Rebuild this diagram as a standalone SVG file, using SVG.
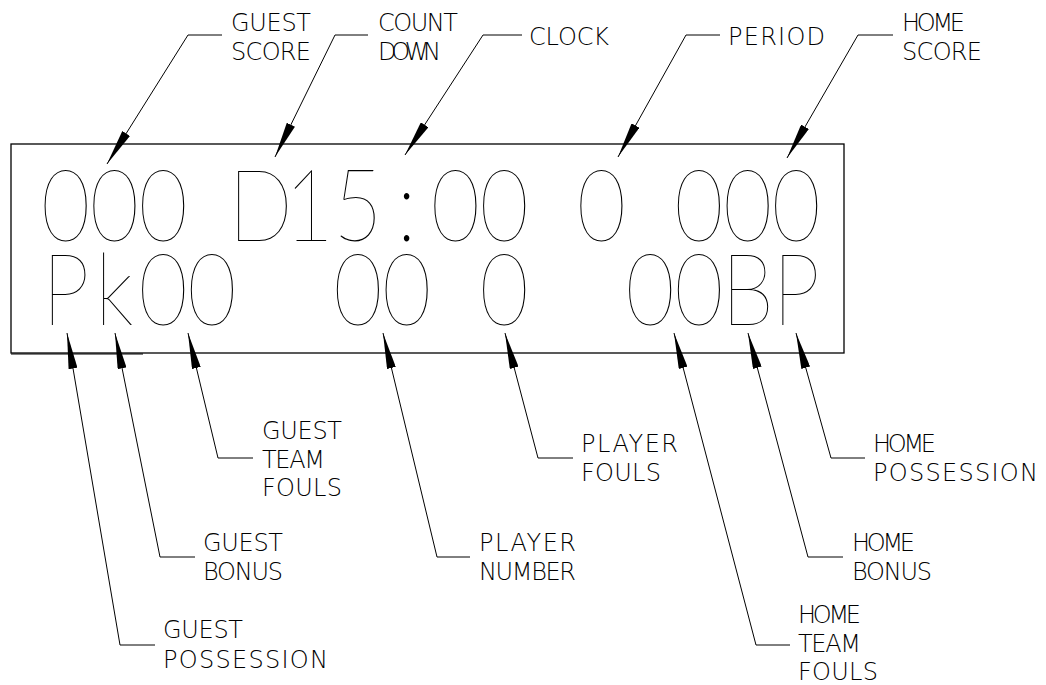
<svg xmlns="http://www.w3.org/2000/svg" width="1046" height="685" viewBox="0 0 1046 685">
<style>
.lbl{font-family:"DejaVu Sans",sans-serif;font-weight:200;font-size:24px;fill:#000}
.dig{font-family:Lato,"DejaVu Sans",sans-serif;font-weight:100;font-size:100px;fill:#000;text-anchor:middle}
.ld{fill:none;stroke:#000;stroke-width:1}
</style>
<defs>
<marker id="ah" viewBox="0 0 36 9" refX="36" refY="4.5" markerWidth="36" markerHeight="9" markerUnits="userSpaceOnUse" orient="auto">
<path d="M0,0 L36,4.5 L0,9 Z" fill="#000"/>
</marker>
</defs>
<rect width="1046" height="685" fill="#fff"/>
<g id="display">
<rect x="11" y="144" width="833" height="209" fill="none" stroke="#000" stroke-width="1.3"/>
<line x1="11" y1="354" x2="143" y2="354" stroke="#000" stroke-width="1"/>
<g transform="translate(65.75 0) scale(0.85 1)">
<text class="dig" xml:space="preserve" y="241" x="0 57.29 114.59 171.88 229.18 286.47 343.76 401.06 458.35 515.65 572.94 630.24 687.53 744.82 802.12 859.41">000 D15:00 0 000</text>
<text class="dig" xml:space="preserve" y="325" x="0 57.29 114.59 171.88 229.18 286.47 343.76 401.06 458.35 515.65 572.94 630.24 687.53 744.82 802.12 859.41">Pk00  00 0  00BP</text>
</g>
</g>
<g id="connectors" class="ld">
<polyline class="ld" points="222,35 188,35 107,164" marker-end="url(#ah)"/>
<polyline class="ld" points="368,35 335,35 275,157" marker-end="url(#ah)"/>
<polyline class="ld" points="522,35 483,35 405,155" marker-end="url(#ah)"/>
<polyline class="ld" points="720,35 686,35 618,157" marker-end="url(#ah)"/>
<polyline class="ld" points="893,35 858,35 787,158" marker-end="url(#ah)"/>
<polyline class="ld" points="155,645 120,645 67,333" marker-end="url(#ah)"/>
<polyline class="ld" points="195,557 160,557 115,333" marker-end="url(#ah)"/>
<polyline class="ld" points="253,458 218,458 188,333" marker-end="url(#ah)"/>
<polyline class="ld" points="470,557 437,557 383,333" marker-end="url(#ah)"/>
<polyline class="ld" points="573,458 538,458 505,333" marker-end="url(#ah)"/>
<polyline class="ld" points="790,645 756,645 674,333" marker-end="url(#ah)"/>
<polyline class="ld" points="843,557 808,557 748,333" marker-end="url(#ah)"/>
<polyline class="ld" points="865,458 831,458 796,333" marker-end="url(#ah)"/>
</g>
<g id="guest-score"><text class="lbl" x="231" y="31" textLength="80">GUEST</text><text class="lbl" x="231" y="60" textLength="80">SCORE</text></g>
<g id="count-down"><text class="lbl" x="378" y="31" textLength="80">COUNT</text><text class="lbl" x="378" y="60" textLength="63">DOWN</text></g>
<g id="clock"><text class="lbl" x="529" y="45" textLength="80">CLOCK</text></g>
<g id="period"><text class="lbl" x="728" y="45" textLength="97">PERIOD</text></g>
<g id="home-score"><text class="lbl" x="902" y="31" textLength="63">HOME</text><text class="lbl" x="902" y="60" textLength="80">SCORE</text></g>
<g id="guest-team-fouls"><text class="lbl" x="262" y="439" textLength="80">GUEST</text><text class="lbl" x="262" y="468" textLength="63">TEAM</text><text class="lbl" x="262" y="496" textLength="80">FOULS</text></g>
<g id="guest-bonus"><text class="lbl" x="203" y="551" textLength="80">GUEST</text><text class="lbl" x="203" y="580" textLength="80">BONUS</text></g>
<g id="guest-possession"><text class="lbl" x="163" y="638" textLength="80">GUEST</text><text class="lbl" x="163" y="668" textLength="165">POSSESSION</text></g>
<g id="player-number"><text class="lbl" x="479" y="551" textLength="97">PLAYER</text><text class="lbl" x="479" y="580" textLength="97">NUMBER</text></g>
<g id="player-fouls"><text class="lbl" x="581" y="452" textLength="97">PLAYER</text><text class="lbl" x="581" y="481" textLength="80">FOULS</text></g>
<g id="home-team-fouls"><text class="lbl" x="798" y="623" textLength="63">HOME</text><text class="lbl" x="798" y="651.5" textLength="63">TEAM</text><text class="lbl" x="798" y="679.5" textLength="80">FOULS</text></g>
<g id="home-bonus"><text class="lbl" x="852" y="551" textLength="63">HOME</text><text class="lbl" x="852" y="580" textLength="80">BONUS</text></g>
<g id="home-possession"><text class="lbl" x="873" y="452" textLength="63">HOME</text><text class="lbl" x="873" y="481" textLength="165">POSSESSION</text></g>
</svg>
